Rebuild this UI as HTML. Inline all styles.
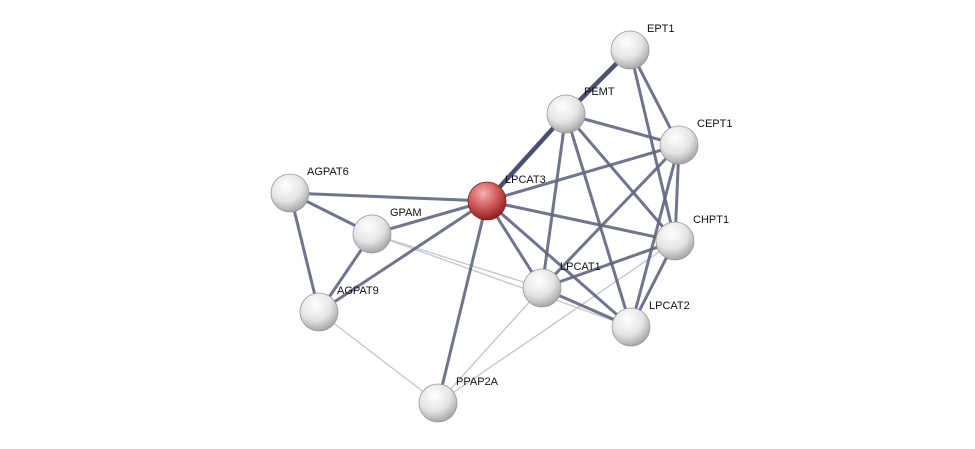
<!DOCTYPE html>
<html><head><meta charset="utf-8"><style>
html,body{margin:0;padding:0;background:#fff;}
svg{display:block;}
text{font-family:"Liberation Sans",sans-serif;font-size:11px;fill:#111;}
</style></head><body>
<svg width="975" height="449" viewBox="0 0 975 449" xmlns="http://www.w3.org/2000/svg">
<defs>
<radialGradient id="w" cx="40%" cy="30%" r="70%">
<stop offset="0" stop-color="#ffffff"/><stop offset="0.6" stop-color="#e4e4e4"/><stop offset="1" stop-color="#a8a8a8"/>
</radialGradient>
<radialGradient id="r" cx="40%" cy="30%" r="70%">
<stop offset="0" stop-color="#f4b0b0"/><stop offset="0.55" stop-color="#d05858"/><stop offset="1" stop-color="#902020"/>
</radialGradient>
</defs>
<g stroke="#c4c4cc" stroke-width="1.3">
<line x1="372" y1="234" x2="542" y2="288"/>
<line x1="372" y1="234" x2="631" y2="327"/>
<line x1="319" y1="312" x2="438" y2="403"/>
<line x1="438" y1="403" x2="542" y2="288"/>
<line x1="438" y1="403" x2="675" y2="241"/>
</g>
<g stroke="#5f6680" stroke-width="3" stroke-opacity="0.9">
<line x1="630" y1="50" x2="679" y2="145"/>
<line x1="630" y1="50" x2="675" y2="241"/>
<line x1="566" y1="114" x2="679" y2="145"/>
<line x1="566" y1="114" x2="675" y2="241"/>
<line x1="566" y1="114" x2="542" y2="288"/>
<line x1="566" y1="114" x2="631" y2="327"/>
<line x1="679" y1="145" x2="487" y2="201"/>
<line x1="679" y1="145" x2="675" y2="241"/>
<line x1="679" y1="145" x2="542" y2="288"/>
<line x1="679" y1="145" x2="631" y2="327"/>
<line x1="487" y1="201" x2="290" y2="193"/>
<line x1="487" y1="201" x2="372" y2="234"/>
<line x1="487" y1="201" x2="319" y2="312"/>
<line x1="487" y1="201" x2="438" y2="403"/>
<line x1="487" y1="201" x2="542" y2="288"/>
<line x1="487" y1="201" x2="631" y2="327"/>
<line x1="487" y1="201" x2="675" y2="241"/>
<line x1="290" y1="193" x2="372" y2="234"/>
<line x1="290" y1="193" x2="319" y2="312"/>
<line x1="372" y1="234" x2="319" y2="312"/>
<line x1="675" y1="241" x2="542" y2="288"/>
<line x1="675" y1="241" x2="631" y2="327"/>
<line x1="542" y1="288" x2="631" y2="327"/>
</g>
<g stroke="#4a5070" stroke-width="4.5">
<line x1="630" y1="50" x2="566" y2="114"/>
<line x1="566" y1="114" x2="487" y2="201"/>
</g>
<g stroke="#999" stroke-width="0.8">
<circle cx="630" cy="50" r="19" fill="url(#w)"/>
<circle cx="566" cy="114" r="19" fill="url(#w)"/>
<circle cx="679" cy="145" r="19" fill="url(#w)"/>
<circle cx="290" cy="193" r="19" fill="url(#w)"/>
<circle cx="372" cy="234" r="19" fill="url(#w)"/>
<circle cx="675" cy="241" r="19" fill="url(#w)"/>
<circle cx="542" cy="288" r="19" fill="url(#w)"/>
<circle cx="319" cy="312" r="19" fill="url(#w)"/>
<circle cx="631" cy="327" r="19" fill="url(#w)"/>
<circle cx="438" cy="403" r="19" fill="url(#w)"/>
<circle cx="487" cy="201" r="19" fill="url(#r)" stroke="#802020"/>
</g>
<text x="647" y="32">EPT1</text>
<text x="584" y="95">PEMT</text>
<text x="697" y="127">CEPT1</text>
<text x="505" y="183">LPCAT3</text>
<text x="307" y="175">AGPAT6</text>
<text x="390" y="216">GPAM</text>
<text x="693" y="223">CHPT1</text>
<text x="560" y="270">LPCAT1</text>
<text x="337" y="294">AGPAT9</text>
<text x="649" y="309">LPCAT2</text>
<text x="456" y="385">PPAP2A</text>
</svg>
</body></html>
